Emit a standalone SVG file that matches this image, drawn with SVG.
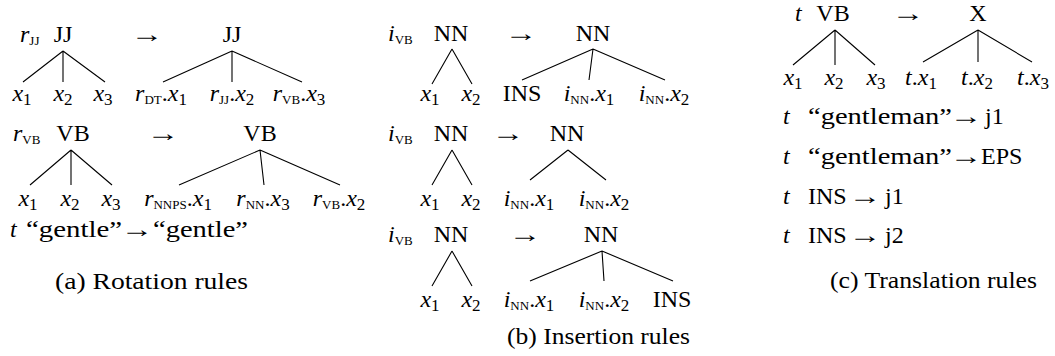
<svg xmlns="http://www.w3.org/2000/svg" width="1055" height="356" viewBox="0 0 1055 356">
<style>
text{font-family:"Liberation Serif","Times New Roman",serif;font-size:24px;fill:#000}
.m{text-anchor:middle}
.i{font-style:italic}
.s{font-size:17px}
.c{font-size:13px}
.ar{text-anchor:middle}
.ln{stroke:#000;stroke-width:1.1;fill:none}
</style>
<rect width="1055" height="356" fill="#fff"/>

<g id="connectors" class="ln">
<path d="M63,51L23,82M63,51L63,82M63,51L105,82"/>
<path d="M232,51L163,82M232,51L232,82M232,51L302,82"/>
<path d="M71,150L30,185M71,150L71,185M71,150L112,185"/>
<path d="M260,150L179,185M260,150L264,185M260,150L340,185"/>
<path d="M452,49L432,84M452,49L472,84"/>
<path d="M593,49L522,80M593,49L589,80M593,49L665,80"/>
<path d="M452,150L432,185M452,150L472,185"/>
<path d="M568,150L530,180M568,150L606,180"/>
<path d="M452,251L432,286M452,251L472,286"/>
<path d="M602,251L530,281M602,251L604,281M602,251L673,281"/>
<path d="M835,30L793,65M835,30L835,65M835,30L875,65"/>
<path d="M978,30L923,62M978,30L978,62M978,30L1032,62"/>
</g>

<!-- Panel (a) -->
<g id="a1-label"><text x="20" y="42"><tspan class="i">r</tspan><tspan class="c" dy="3">JJ</tspan></text></g>
<g id="a1-lhs-root"><text class="m" x="63" y="42">JJ</text></g>
<g id="a1-arrow"><text class="ar" transform="translate(147 42) scale(1.35 1)">→</text></g>
<g id="a1-rhs-root"><text class="m" x="232" y="42">JJ</text></g>
<g id="a1-x1"><text class="m" x="22" y="101"><tspan class="i">x</tspan><tspan class="s" dy="4">1</tspan></text></g>
<g id="a1-x2"><text class="m" x="63" y="101"><tspan class="i">x</tspan><tspan class="s" dy="4">2</tspan></text></g>
<g id="a1-x3"><text class="m" x="103" y="101"><tspan class="i">x</tspan><tspan class="s" dy="4">3</tspan></text></g>
<g id="a1-r1"><text class="m" x="161" y="101"><tspan class="i">r</tspan><tspan class="c" dy="3">DT</tspan><tspan dy="-3">.</tspan><tspan class="i">x</tspan><tspan class="s" dy="4">1</tspan></text></g>
<g id="a1-r2"><text class="m" x="232" y="101"><tspan class="i">r</tspan><tspan class="c" dy="3">JJ</tspan><tspan dy="-3">.</tspan><tspan class="i">x</tspan><tspan class="s" dy="4">2</tspan></text></g>
<g id="a1-r3"><text class="m" x="299" y="101"><tspan class="i">r</tspan><tspan class="c" dy="3">VB</tspan><tspan dy="-3">.</tspan><tspan class="i">x</tspan><tspan class="s" dy="4">3</tspan></text></g>

<g id="a2-label"><text x="13" y="141"><tspan class="i">r</tspan><tspan class="c" dy="3">VB</tspan></text></g>
<g id="a2-lhs-root"><text class="m" x="73" y="141">VB</text></g>
<g id="a2-arrow"><text class="ar" transform="translate(163 141) scale(1.35 1)">→</text></g>
<g id="a2-rhs-root"><text class="m" x="260" y="141">VB</text></g>
<g id="a2-x1"><text class="m" x="28" y="206"><tspan class="i">x</tspan><tspan class="s" dy="4">1</tspan></text></g>
<g id="a2-x2"><text class="m" x="70" y="206"><tspan class="i">x</tspan><tspan class="s" dy="4">2</tspan></text></g>
<g id="a2-x3"><text class="m" x="111" y="206"><tspan class="i">x</tspan><tspan class="s" dy="4">3</tspan></text></g>
<g id="a2-r1"><text class="m" x="178" y="206"><tspan class="i">r</tspan><tspan class="c" dy="3">NNPS</tspan><tspan dy="-3">.</tspan><tspan class="i">x</tspan><tspan class="s" dy="4">1</tspan></text></g>
<g id="a2-r2"><text class="m" x="263" y="206"><tspan class="i">r</tspan><tspan class="c" dy="3">NN</tspan><tspan dy="-3">.</tspan><tspan class="i">x</tspan><tspan class="s" dy="4">3</tspan></text></g>
<g id="a2-r3"><text class="m" x="339" y="206"><tspan class="i">r</tspan><tspan class="c" dy="3">VB</tspan><tspan dy="-3">.</tspan><tspan class="i">x</tspan><tspan class="s" dy="4">2</tspan></text></g>

<g id="a3-rule">
<text class="i" x="10" y="237">t</text>
<text x="26" y="237" textLength="96" lengthAdjust="spacingAndGlyphs">“gentle”</text>
<text class="ar" transform="translate(137 237) scale(1.35 1)">→</text>
<text x="153" y="237" textLength="95" lengthAdjust="spacingAndGlyphs">“gentle”</text>
</g>
<g id="caption-a"><text x="55" y="289" textLength="193" lengthAdjust="spacingAndGlyphs">(a) Rotation rules</text></g>

<!-- Panel (b) -->
<g id="b1-label"><text x="388" y="41"><tspan class="i">i</tspan><tspan class="c" dy="3">VB</tspan></text></g>
<g id="b1-lhs-root"><text class="m" x="451" y="41">NN</text></g>
<g id="b1-arrow"><text class="ar" transform="translate(521 41) scale(1.35 1)">→</text></g>
<g id="b1-rhs-root"><text class="m" x="593" y="41">NN</text></g>
<g id="b1-x1"><text class="m" x="430" y="101"><tspan class="i">x</tspan><tspan class="s" dy="4">1</tspan></text></g>
<g id="b1-x2"><text class="m" x="471" y="101"><tspan class="i">x</tspan><tspan class="s" dy="4">2</tspan></text></g>
<g id="b1-ins"><text class="m" x="522" y="101">INS</text></g>
<g id="b1-i1"><text class="m" x="589" y="101"><tspan class="i">i</tspan><tspan class="c" dy="3">NN</tspan><tspan dy="-3">.</tspan><tspan class="i">x</tspan><tspan class="s" dy="4">1</tspan></text></g>
<g id="b1-i2"><text class="m" x="664" y="101"><tspan class="i">i</tspan><tspan class="c" dy="3">NN</tspan><tspan dy="-3">.</tspan><tspan class="i">x</tspan><tspan class="s" dy="4">2</tspan></text></g>

<g id="b2-label"><text x="388" y="141"><tspan class="i">i</tspan><tspan class="c" dy="3">VB</tspan></text></g>
<g id="b2-lhs-root"><text class="m" x="451" y="141">NN</text></g>
<g id="b2-arrow"><text class="ar" transform="translate(508 141) scale(1.35 1)">→</text></g>
<g id="b2-rhs-root"><text class="m" x="567" y="141">NN</text></g>
<g id="b2-x1"><text class="m" x="430" y="206"><tspan class="i">x</tspan><tspan class="s" dy="4">1</tspan></text></g>
<g id="b2-x2"><text class="m" x="471" y="206"><tspan class="i">x</tspan><tspan class="s" dy="4">2</tspan></text></g>
<g id="b2-i1"><text class="m" x="529" y="206"><tspan class="i">i</tspan><tspan class="c" dy="3">NN</tspan><tspan dy="-3">.</tspan><tspan class="i">x</tspan><tspan class="s" dy="4">1</tspan></text></g>
<g id="b2-i2"><text class="m" x="604" y="206"><tspan class="i">i</tspan><tspan class="c" dy="3">NN</tspan><tspan dy="-3">.</tspan><tspan class="i">x</tspan><tspan class="s" dy="4">2</tspan></text></g>

<g id="b3-label"><text x="388" y="242"><tspan class="i">i</tspan><tspan class="c" dy="3">VB</tspan></text></g>
<g id="b3-lhs-root"><text class="m" x="451" y="242">NN</text></g>
<g id="b3-arrow"><text class="ar" transform="translate(525 242) scale(1.35 1)">→</text></g>
<g id="b3-rhs-root"><text class="m" x="601" y="242">NN</text></g>
<g id="b3-x1"><text class="m" x="430" y="307"><tspan class="i">x</tspan><tspan class="s" dy="4">1</tspan></text></g>
<g id="b3-x2"><text class="m" x="471" y="307"><tspan class="i">x</tspan><tspan class="s" dy="4">2</tspan></text></g>
<g id="b3-i1"><text class="m" x="529" y="307"><tspan class="i">i</tspan><tspan class="c" dy="3">NN</tspan><tspan dy="-3">.</tspan><tspan class="i">x</tspan><tspan class="s" dy="4">1</tspan></text></g>
<g id="b3-i2"><text class="m" x="604" y="307"><tspan class="i">i</tspan><tspan class="c" dy="3">NN</tspan><tspan dy="-3">.</tspan><tspan class="i">x</tspan><tspan class="s" dy="4">2</tspan></text></g>
<g id="b3-ins"><text class="m" x="672" y="307">INS</text></g>
<g id="caption-b"><text x="507" y="344" textLength="183" lengthAdjust="spacingAndGlyphs">(b) Insertion rules</text></g>

<!-- Panel (c) -->
<g id="c1-label"><text class="i" x="795" y="21">t</text></g>
<g id="c1-lhs-root"><text class="m" x="833" y="21">VB</text></g>
<g id="c1-arrow"><text class="ar" transform="translate(908 21) scale(1.35 1)">→</text></g>
<g id="c1-rhs-root"><text class="m" x="978" y="21">X</text></g>
<g id="c1-x1"><text class="m" x="793" y="85"><tspan class="i">x</tspan><tspan class="s" dy="4">1</tspan></text></g>
<g id="c1-x2"><text class="m" x="834" y="85"><tspan class="i">x</tspan><tspan class="s" dy="4">2</tspan></text></g>
<g id="c1-x3"><text class="m" x="876" y="85"><tspan class="i">x</tspan><tspan class="s" dy="4">3</tspan></text></g>
<g id="c1-t1"><text class="m" x="921" y="85"><tspan class="i">t</tspan>.<tspan class="i">x</tspan><tspan class="s" dy="4">1</tspan></text></g>
<g id="c1-t2"><text class="m" x="977" y="85"><tspan class="i">t</tspan>.<tspan class="i">x</tspan><tspan class="s" dy="4">2</tspan></text></g>
<g id="c1-t3"><text class="m" x="1033" y="85"><tspan class="i">t</tspan>.<tspan class="i">x</tspan><tspan class="s" dy="4">3</tspan></text></g>

<g id="c2-rule">
<text class="i" x="783" y="124">t</text>
<text x="808" y="124" textLength="144" lengthAdjust="spacingAndGlyphs">“gentleman”</text>
<text class="ar" transform="translate(966 124) scale(1.35 1)">→</text>
<text x="985" y="124">j1</text>
</g>
<g id="c3-rule">
<text class="i" x="783" y="164">t</text>
<text x="808" y="164" textLength="144" lengthAdjust="spacingAndGlyphs">“gentleman”</text>
<text class="ar" transform="translate(966 164) scale(1.35 1)">→</text>
<text x="981" y="164">EPS</text>
</g>
<g id="c4-rule">
<text class="i" x="783" y="204">t</text>
<text x="808" y="204">INS</text>
<text class="ar" transform="translate(865 204) scale(1.35 1)">→</text>
<text x="885" y="204">j1</text>
</g>
<g id="c5-rule">
<text class="i" x="783" y="243">t</text>
<text x="808" y="243">INS</text>
<text class="ar" transform="translate(865 243) scale(1.35 1)">→</text>
<text x="885" y="243">j2</text>
</g>
<g id="caption-c"><text x="830" y="288" textLength="207" lengthAdjust="spacingAndGlyphs">(c) Translation rules</text></g>
</svg>
